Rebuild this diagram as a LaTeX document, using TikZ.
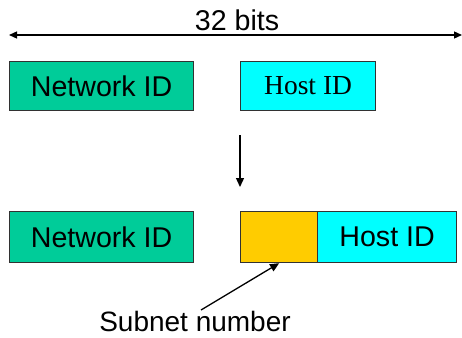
\documentclass[tikz,border=0pt]{standalone}
\usepackage{fontspec}
\setmainfont{Liberation Sans}
\newfontfamily\serifface{Liberation Serif}
\usetikzlibrary{arrows.meta}
\definecolor{netgreen}{RGB}{0,204,153}
\definecolor{hostcyan}{RGB}{0,255,255}
\definecolor{subnetorange}{RGB}{255,204,0}
\definecolor{borderdark}{RGB}{50,50,50}
\begin{document}
\begin{tikzpicture}[x=1pt,y=-1pt,
  field/.style={draw=borderdark,line width=1.2pt,rectangle,inner sep=0pt,anchor=north west,font=\fontsize{28.6}{31}\selectfont},
  lbl/.style={font=\fontsize{28.6}{31}\selectfont,inner sep=0pt},
  arr/.style={line width=1.3pt,-{Triangle[length=9pt,width=8pt]}},
  darr/.style={line width=1.3pt,{Triangle[length=8pt,width=7pt]}-{Triangle[length=8pt,width=7pt]}}]
\useasboundingbox (0,0) rectangle (462,337);
% 32 bits
\coordinate (bl) at (9,35);
\coordinate (br) at (462,35);
\draw[darr] (bl) -- (br);
\node[lbl] (bits) at (237,20) {32 bits};
% top row
\node[field,fill=netgreen,minimum width=184pt,minimum height=49pt] (net1) at (9,61) {Network ID};
\node[field,fill=hostcyan,minimum width=135pt,minimum height=49pt,font=\fontsize{27.5}{30}\serifface] (host1) at (240,61) {Host ID};
% down arrow
\coordinate (da) at (240,135);
\coordinate (db) at (240,187);
\draw[arr] (da) -- (db);
% bottom row
\node[field,fill=netgreen,minimum width=184pt,minimum height=51pt] (net2) at (9,211) {Network ID};
\node[field,fill=subnetorange,minimum width=77pt,minimum height=51pt] (sub) at (240,211) {};
\node[field,fill=hostcyan,minimum width=139pt,minimum height=51pt] (host2) at (317,211) {Host ID};
% subnet label
\node[lbl,font=\fontsize{28}{30}\selectfont] (sn) at (195,321) {Subnet number};
\coordinate (sa) at (201,310);
\draw[arr] (sa) -- (sub.south);
\end{tikzpicture}
\end{document}
